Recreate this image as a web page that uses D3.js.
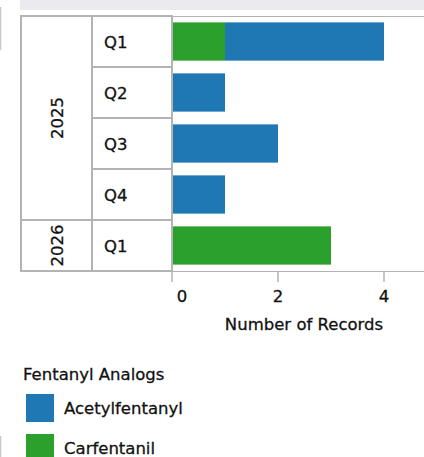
<!DOCTYPE html>
<html>
<head>
<meta charset="utf-8">
<script src="https://cdn.jsdelivr.net/npm/d3@7"></script>
<style>
  body { margin: 0; background: #fff; }
  svg text { font-family: "DejaVu Sans", sans-serif; fill: #111; stroke: #111; stroke-width: 0.3px; }
</style>
</head>
<body>
<script>
// data
var years = ["2025", "2025", "2025", "2025", "2026"];
var quarters = ["Q1", "Q2", "Q3", "Q4", "Q1"];
var acetylfentanyl = [3, 1, 2, 1, 0];
var carfentanil = [1, 0, 0, 0, 3];
var seriesNames = ["Carfentanil", "Acetylfentanyl"];
var legendNames = ["Acetylfentanyl", "Carfentanil"];
var xTicks = [0, 2, 4];

var width = 424, height = 457;
var gridColor = "#b3b3b3";
var fs = 16.5;

var svg = d3.select("body").append("svg")
    .attr("width", width)
    .attr("height", height);

var color = d3.scaleOrdinal()
    .domain(["Acetylfentanyl", "Carfentanil"])
    .range(["#1f77b4", "#2ca02c"]);

var rows = d3.range(years.length);
var y = d3.scaleBand().domain(rows).range([16, 271]).paddingInner(0.25).paddingOuter(0.125);
var yRow = d3.scaleBand().domain(rows).range([16, 271]);
var x = d3.scaleLinear().domain([0, 4]).range([172, 384]);

// top grey band (scroll header)
svg.append("rect").attr("x", 20).attr("y", 0).attr("width", 404).attr("height", 10).attr("fill", "#ebebef");
svg.append("line").attr("x1", 0.5).attr("x2", 0.5).attr("y1", 7).attr("y2", 50)
    .attr("stroke", "#c8c8c8").attr("stroke-width", 1.5);
svg.append("line").attr("x1", 0.5).attr("x2", 0.5).attr("y1", 436).attr("y2", 457)
    .attr("stroke", "#c8c8c8").attr("stroke-width", 1.5);

// stacked bars
var table = rows.map(function(i) {
  return { Carfentanil: carfentanil[i], Acetylfentanyl: acetylfentanyl[i], i: i };
});
var stack = d3.stack().keys(seriesNames)(table);

svg.append("g").selectAll("g")
  .data(stack)
  .enter().append("g")
    .attr("fill", function(d) { return color(d.key); })
  .selectAll("rect")
  .data(function(d) { return d; })
  .enter().append("rect")
    .attr("x", function(d) { return x(d[0]); })
    .attr("y", function(d) { return y(d.data.i); })
    .attr("width", function(d) { return x(d[1]) - x(d[0]); })
    .attr("height", y.bandwidth());

// plot frame lines
svg.append("line").attr("x1", 172).attr("x2", width).attr("y1", 16.5).attr("y2", 16.5)
    .attr("stroke", gridColor).attr("stroke-width", 1);
svg.append("line").attr("x1", 172).attr("x2", width).attr("y1", 271.5).attr("y2", 271.5)
    .attr("stroke", gridColor).attr("stroke-width", 1);

// header table
var grid = svg.append("g").attr("stroke", gridColor).attr("stroke-width", 2).attr("fill", "none");
grid.append("rect").attr("x", 21).attr("y", 16).attr("width", 151).attr("height", 255);
grid.append("line").attr("x1", 92).attr("x2", 92).attr("y1", 16).attr("y2", 271);
rows.slice(1).forEach(function(i) {
  var x0 = years[i] !== years[i - 1] ? 20 : 92;
  grid.append("line").attr("x1", x0).attr("x2", 172)
      .attr("y1", yRow(i)).attr("y2", yRow(i));
});

svg.append("g").selectAll("text")
  .data(rows)
  .enter().append("text")
    .attr("x", 104)
    .attr("y", function(i) { return yRow(i) + yRow.bandwidth() / 2 + 6; })
    .attr("font-size", fs)
    .text(function(i) { return quarters[i]; });

// year column (rotated labels)
var yearGroups = d3.groups(rows, function(i) { return years[i]; });
svg.append("g").selectAll("text")
  .data(yearGroups)
  .enter().append("text")
    .attr("transform", function(g) {
      var first = g[1][0], last = g[1][g[1].length - 1];
      var cy = (yRow(first) + yRow(last) + yRow.bandwidth()) / 2;
      return "translate(63," + cy + ") rotate(-90)";
    })
    .attr("text-anchor", "middle")
    .attr("font-size", fs)
    .text(function(g) { return g[0]; });

// x axis
var xAxis = svg.append("g");
xAxis.selectAll("line")
  .data(xTicks)
  .enter().append("line")
    .attr("x1", function(d) { return x(d); })
    .attr("x2", function(d) { return x(d); })
    .attr("y1", 271).attr("y2", 282)
    .attr("stroke", gridColor).attr("stroke-width", 1.5);
xAxis.selectAll("text")
  .data(xTicks)
  .enter().append("text")
    .attr("x", function(d, i) { return i === 0 ? x(d) + 10 : x(d); })
    .attr("y", 301.5)
    .attr("text-anchor", "middle")
    .attr("font-size", fs)
    .text(function(d) { return d; });
svg.append("text")
  .attr("x", 304).attr("y", 329.5)
  .attr("text-anchor", "middle")
  .attr("font-size", fs)
  .text("Number of Records");

// legend
svg.append("text").attr("x", 23).attr("y", 379.5)
  .attr("font-size", fs)
  .text("Fentanyl Analogs");
var leg = svg.append("g").selectAll("g")
  .data(legendNames)
  .enter().append("g")
    .attr("transform", function(d, i) { return "translate(26," + (394 + i * 40) + ")"; });
leg.append("rect").attr("width", 28).attr("height", 28).attr("fill", function(d) { return color(d); });
leg.append("text").attr("x", 38).attr("y", 20.3)
  .attr("font-size", fs)
  .text(function(d) { return d; });
</script>
</body>
</html>
